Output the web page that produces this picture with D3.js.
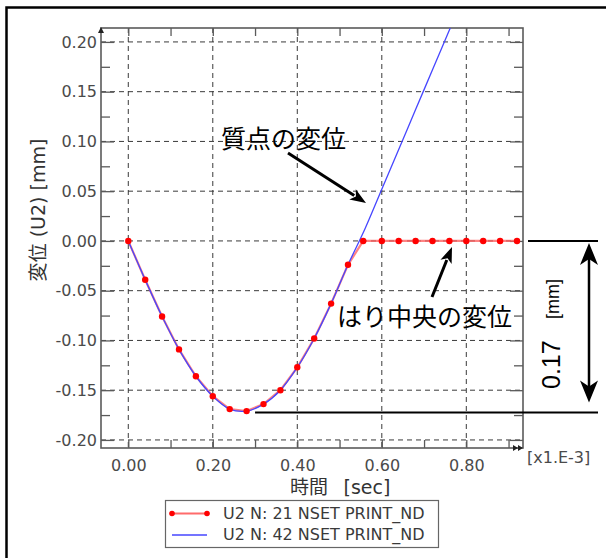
<!DOCTYPE html>
<html><head><meta charset="utf-8">
<script src="https://cdn.jsdelivr.net/npm/d3@7"></script>
<style>
html,body{margin:0;padding:0;background:#fff;}
svg{display:block;}
text{font-family:"DejaVu Sans","Noto Sans CJK JP",sans-serif;}
</style></head>
<body>
<svg id="chart" width="606" height="558"></svg>
<script>
// ---- data ----
const redTimes  = [0.00,0.04,0.08,0.12,0.16,0.20,0.24,0.28,0.32,0.36,0.40,0.44,0.48,0.52,0.556,0.60,0.64,0.68,0.72,0.76,0.80,0.84,0.88,0.92];
const redValues = [0.000,-0.039,-0.076,-0.109,-0.136,-0.156,-0.169,-0.171,-0.164,-0.150,-0.127,-0.098,-0.063,-0.024,0.000,0.000,0.000,0.000,0.000,0.000,0.000,0.000,0.000,0.000];
const blueTimes  = [0.00,0.04,0.08,0.12,0.16,0.20,0.24,0.28,0.32,0.36,0.40,0.44,0.48,0.52,0.56,0.60,0.64,0.68,0.72,0.76,0.80];
const blueValues = [0.000,-0.039,-0.076,-0.109,-0.136,-0.156,-0.169,-0.171,-0.164,-0.150,-0.127,-0.098,-0.063,-0.024,0.012,0.052,0.092,0.132,0.172,0.212,0.252];
const xMajorTicks = [0.0,0.2,0.4,0.6,0.8];
const xMinorTicks = [0.1,0.3,0.5,0.7,0.9];
const xTickLabels = ["0.00","0.20","0.40","0.60","0.80"];
const yMajorTicks = [-0.20,-0.15,-0.10,-0.05,0.00,0.05,0.10,0.15,0.20];
const yMinorTicks = [-0.175,-0.125,-0.075,-0.025,0.025,0.075,0.125,0.175];
const yTickLabels = ["-0.20","-0.15","-0.10","-0.05","0.00","0.05","0.10","0.15","0.20"];
const legendLabels = ["U2 N: 21 NSET PRINT_ND","U2 N: 42 NSET PRINT_ND"];
const xTitle = "時間\u2002 [sec]";
const yTitle = "変位 (U2) [mm]";
const xUnit = "[x1.E-3]";
const noteMass = "質点の変位";
const noteBeam = "はり中央の変位";
const gapValue = "0.17";
const gapUnit = "[mm]";

// ---- layout ----
const L=101,R=523,T=28,B=448;
const svg = d3.select("#chart");
const x = d3.scaleLinear().domain([-0.0646,0.9342]).range([L,R]);
const y = d3.scaleLinear().domain([-0.2081,0.2140]).range([B,T]);
const axisCol="#5a5a5a";

// outer frame
svg.append("rect").attr("x",6.5).attr("y",7.5).attr("width",700).attr("height",700)
  .attr("fill","none").attr("stroke","#000").attr("stroke-width",2.5);

// grid
const grid = svg.append("g").attr("stroke","#3a3a3a").attr("stroke-width",1).attr("stroke-dasharray","5,4");
grid.selectAll("line.gx").data(xMajorTicks).join("line")
  .attr("x1",d=>x(d)).attr("x2",d=>x(d)).attr("y1",T).attr("y2",B);
grid.selectAll("line.gy").data(yMajorTicks).join("line")
  .attr("y1",d=>y(d)).attr("y2",d=>y(d)).attr("x1",L).attr("x2",R);

// axes with inward ticks
function styleAxis(g){
  g.select(".domain").remove();
  g.selectAll(".tick line").attr("stroke",axisCol).attr("stroke-width",1.3);
  g.selectAll("text").attr("fill","#4a4a4a").style("font-size","16px");
}
const tickFmtX = d=>xTickLabels[xMajorTicks.indexOf(d)];
const tickFmtY = d=>yTickLabels[yMajorTicks.indexOf(d)];
svg.append("g").attr("transform",`translate(0,${B})`)
  .call(d3.axisBottom(x).tickValues(xMajorTicks).tickSize(-8).tickPadding(12).tickFormat(tickFmtX)).call(styleAxis);
svg.append("g").attr("transform",`translate(0,${B})`)
  .call(d3.axisBottom(x).tickValues(xMinorTicks).tickSize(-8).tickFormat("")).call(styleAxis);
svg.append("g").attr("transform",`translate(0,${T})`)
  .call(d3.axisTop(x).tickValues(xMajorTicks.concat(xMinorTicks)).tickSize(-8).tickFormat("")).call(styleAxis);
svg.append("g").attr("transform",`translate(${L},0)`)
  .call(d3.axisLeft(y).tickValues(yMajorTicks).tickSize(-13).tickPadding(4).tickFormat(tickFmtY)).call(styleAxis);
svg.append("g").attr("transform",`translate(${L},0)`)
  .call(d3.axisLeft(y).tickValues(yMinorTicks).tickSize(-9).tickFormat("")).call(styleAxis);
svg.append("g").attr("transform",`translate(${R},0)`)
  .call(d3.axisRight(y).tickValues(yMajorTicks).tickSize(-13).tickFormat("")).call(styleAxis);
svg.append("g").attr("transform",`translate(${R},0)`)
  .call(d3.axisRight(y).tickValues(yMinorTicks).tickSize(-9).tickFormat("")).call(styleAxis);

// plot border
svg.append("rect").attr("x",L).attr("y",T).attr("width",R-L).attr("height",B-T)
  .attr("fill","none").attr("stroke",axisCol).attr("stroke-width",1.6);

// axis arrows
svg.append("path").attr("d",`M${L},${T-1} l-3,6 l6,0 z`).attr("fill","#222");
svg.append("path").attr("d",`M${R},${B} l-5,-3 l0,6 z M${R-5},${B} l-5,-3 l0,6 z`).attr("fill","#222");

// x unit
svg.append("text").attr("x",R+4).attr("y",B+15).attr("fill","#4a4a4a").style("font-size","16px").text(xUnit);

// titles
svg.append("text").attr("x",290).attr("y",494).attr("fill","#333").style("font-size","19px").text(xTitle);
svg.append("text").attr("transform",`translate(45,210) rotate(-90)`).attr("text-anchor","middle")
  .attr("fill","#333").style("font-size","19px").text(yTitle);

// clip
svg.append("clipPath").attr("id","clip").append("rect").attr("x",L).attr("y",T).attr("width",R-L).attr("height",B-T);
const plot = svg.append("g").attr("clip-path","url(#clip)");

const redData = redTimes.map((t,i)=>[t,redValues[i]]);
const blueData = blueTimes.map((t,i)=>[t,blueValues[i]]);
plot.append("path").datum(redData)
  .attr("d",d3.line().x(d=>x(d[0])).y(d=>y(d[1])))
  .attr("fill","none").attr("stroke","#ff5a5a").attr("stroke-opacity",0.75).attr("stroke-width",2.2);
plot.append("path").datum(blueData)
  .attr("d",d3.line().x(d=>x(d[0])).y(d=>y(d[1])).curve(d3.curveCatmullRom.alpha(0.5)))
  .attr("fill","none").attr("stroke","#4646ff").attr("stroke-width",1.3);
plot.selectAll("circle").data(redData).join("circle")
  .attr("cx",d=>x(d[0])).attr("cy",d=>y(d[1])).attr("r",3.2).attr("fill","#ff0000");

// legend
const lg = svg.append("g");
lg.append("rect").attr("x",165.5).attr("y",500.5).attr("width",273).attr("height",47)
  .attr("fill","#fff").attr("stroke","#666").attr("stroke-width",1.2);
lg.append("line").attr("x1",172).attr("x2",207).attr("y1",513.5).attr("y2",513.5).attr("stroke","#ff6b6b").attr("stroke-width",2);
lg.selectAll("circle").data([172,207]).join("circle").attr("cx",d=>d).attr("cy",513.5).attr("r",2.8).attr("fill","#ff0000");
lg.append("line").attr("x1",172).attr("x2",207).attr("y1",535).attr("y2",535).attr("stroke","#4646ff").attr("stroke-width",1.3);
lg.selectAll("text").data(legendLabels).join("text")
  .attr("x",223).attr("y",(d,i)=>519+i*21).attr("fill","#3a3a3a").style("font-size","16px").text(d=>d);

// annotations
const ann = svg.append("g");
function arrow(x1,y1,x2,y2,len,half,w){
  const a=Math.atan2(y2-y1,x2-x1), c=Math.cos(a), s=Math.sin(a);
  const bx=x2-len*c, by=y2-len*s;
  ann.append("line").attr("x1",x1).attr("y1",y1).attr("x2",bx+2*c).attr("y2",by+2*s).attr("stroke","#000").attr("stroke-width",w);
  ann.append("path").attr("d",`M${x2},${y2} L${bx-half*s},${by+half*c} L${bx+0.25*len*c},${by+0.25*len*s} L${bx+half*s},${by-half*c} Z`).attr("fill","#000");
}
ann.append("text").attr("x",221).attr("y",148).attr("fill","#000").style("font-size","25px")
  .style("font-family","'Noto Sans CJK JP',sans-serif").text(noteMass);
arrow(288,153,366,203,16,6,3);
ann.append("text").attr("x",337).attr("y",326).attr("fill","#000").style("font-size","25px")
  .style("font-family","'Noto Sans CJK JP',sans-serif").text(noteBeam);
arrow(432,297,452,247,16,6,3);

// gap marker
const yTop = y(0), yBot = y(d3.min(blueValues))+1.5;
ann.append("line").attr("x1",528).attr("x2",598).attr("y1",yTop).attr("y2",yTop).attr("stroke","#000").attr("stroke-width",2);
ann.append("line").attr("x1",x(0.30)).attr("x2",598).attr("y1",yBot).attr("y2",yBot).attr("stroke","#000").attr("stroke-width",2);
(function(){
  const xa=589, ya=yTop+2, yb=yBot-10;
  ann.append("line").attr("x1",xa).attr("x2",xa).attr("y1",ya+14).attr("y2",yb-14).attr("stroke","#000").attr("stroke-width",2.5);
  ann.append("path").attr("d",`M${xa},${ya} L${xa-9},${ya+22} L${xa},${ya+16} L${xa+9},${ya+22} Z`).attr("fill","#000");
  ann.append("path").attr("d",`M${xa},${yb} L${xa-9},${yb-22} L${xa},${yb-16} L${xa+9},${yb-22} Z`).attr("fill","#000");
})();
ann.append("text").attr("transform","translate(560,389) rotate(-90)").attr("fill","#000")
  .style("font-family","'Liberation Sans',sans-serif").style("font-size","25px").text(gapValue);
ann.append("text").attr("transform","translate(559,319) rotate(-90)").attr("fill","#000")
  .style("font-family","'Liberation Sans',sans-serif").style("font-size","18px").text(gapUnit);
</script>
</body></html>
